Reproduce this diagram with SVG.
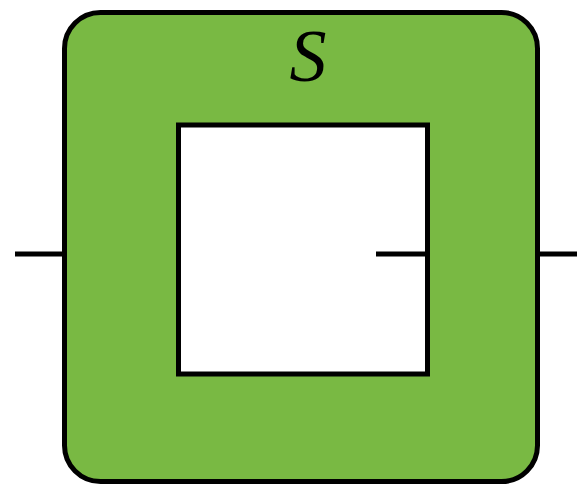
<svg xmlns="http://www.w3.org/2000/svg" width="577" height="484" viewBox="0 0 577 484">
<style>
.wire{stroke:#000;stroke-width:5;fill:none}
.box{stroke:#000;stroke-width:5}
.lbl{font-family:"Liberation Serif","DejaVu Serif",serif;font-style:italic;font-size:74px;fill:#000}
</style>
<rect width="577" height="484" fill="#fff"/>
<g id="outer">
<rect class="box" x="64.5" y="12.5" width="473" height="469" rx="36" ry="36" fill="#79B943"/>
<text class="lbl" x="308" y="81" text-anchor="middle">S</text>
</g>
<g id="inner">
<rect class="box" x="178.5" y="125" width="249" height="249" fill="#fff"/>
</g>
<g id="connectors">
<line class="wire" x1="15" y1="254" x2="64" y2="254"/>
<line class="wire" x1="538" y1="254" x2="577" y2="254"/>
<line class="wire" x1="376" y1="254" x2="427" y2="254"/>
</g>
</svg>
